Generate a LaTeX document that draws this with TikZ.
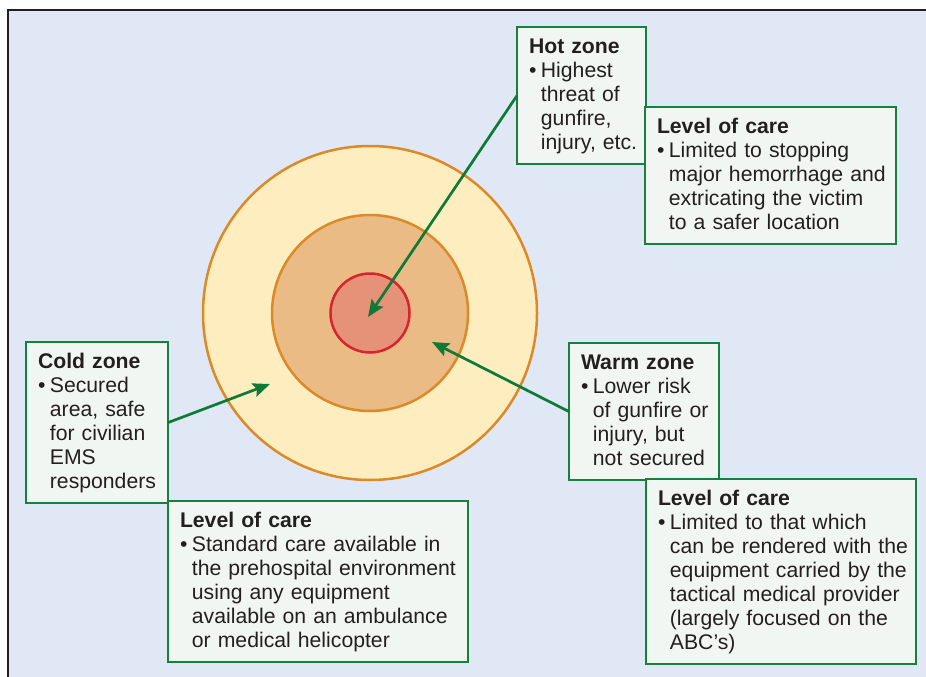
\documentclass[tikz,border=0pt]{standalone}
\usepackage{fontspec}
\setmainfont{Liberation Sans}
\usetikzlibrary{arrows.meta}

\definecolor{bgblue}{HTML}{E0E8F5}
\definecolor{framegray}{HTML}{231F20}
\definecolor{coldfill}{HTML}{FEEDBE}
\definecolor{warmfill}{HTML}{EBBB85}
\definecolor{hotfill}{HTML}{E69278}
\definecolor{ringorange}{HTML}{DA8A29}
\definecolor{hotred}{HTML}{D6252C}
\definecolor{boxfill}{HTML}{F2F6F2}
\definecolor{boxgreen}{HTML}{16803C}
\definecolor{arrowgreen}{HTML}{0E7A37}

% title line, then bullet with hanging lines
\newcommand{\zonetext}[2]{%
  \begin{tabular}{@{}l@{\hspace{4.5pt}}l@{}}
    \multicolumn{2}{@{}l@{}}{\rule{0pt}{19pt}\textbf{#1}}\\
    #2
  \end{tabular}}

\begin{document}
\begin{tikzpicture}[x=1pt,y=-1pt,
  zonebox/.style={draw=boxgreen, line width=2.5pt, fill=boxfill,
    anchor=north west, outer sep=0pt, inner xsep=12pt, inner ysep=7.5pt,
    align=left, text=framegray, font=\fontsize{21.2}{24}\selectfont},
  pointer/.style={draw=arrowgreen, line width=2.7pt,
    -{Stealth[length=17pt,width=14pt,inset=3pt]}}]
\useasboundingbox (0,0) rectangle (926,677);

% panel
\fill[white] (0,0) rectangle (926,677);
\fill[bgblue] (8,10) rectangle (926,677);
\draw[framegray, line width=2pt] (8,677) -- (8,10) -- (926,10);

% zones
\coordinate (ctr) at (370,313);
\draw[ringorange, line width=2.5pt, fill=coldfill] (ctr) circle[radius=167pt];
\draw[ringorange, line width=2.5pt, fill=warmfill] (ctr) circle[radius=98pt];
\draw[hotred, line width=2.5pt, fill=hotfill] (ctr) circle[radius=39.5pt];

\coordinate (hottip) at (368,317);
\coordinate (warmtip) at (432,342);
\coordinate (coldtip) at (270,384);

% labels
\node[zonebox, text width=105pt] (hot) at (517,27)
  {\zonetext{Hot zone}{\textbullet & Highest\\ & threat of\\ & gunfire,\\ & injury, etc.}};
\node[zonebox, text width=227pt] (hotcare) at (645,107)
  {\zonetext{Level of care}{\textbullet & Limited to stopping\\ & major hemorrhage and\\
   & extricating the victim\\ & to a safer location}};

\node[zonebox, text width=118pt] (cold) at (26,342)
  {\zonetext{Cold zone}{\textbullet & Secured\\ & area, safe\\ & for civilian\\ & EMS\\ & responders}};
\node[zonebox, text width=276pt] (coldcare) at (168,501)
  {\zonetext{Level of care}{\textbullet & Standard care available in\\
   & the prehospital environment\\ & using any equipment\\
   & available on an ambulance\\ & or medical helicopter}};

\node[zonebox, text width=126pt] (warm) at (569,343)
  {\zonetext{Warm zone}{\textbullet & Lower risk\\ & of gunfire or\\ & injury, but\\ & not secured}};
\node[zonebox, text width=246pt] (warmcare) at (646,479)
  {\zonetext{Level of care}{\textbullet & Limited to that which\\
   & can be rendered with the\\ & equipment carried by the\\
   & tactical medical provider\\ & (largely focused on the\\ & ABC’s)}};

% pointers
\draw[pointer] (hot.west) -- (hottip);
\draw[pointer] (cold.east) -- (coldtip);
\draw[pointer] (warm.west) -- (warmtip);
\end{tikzpicture}
\end{document}
